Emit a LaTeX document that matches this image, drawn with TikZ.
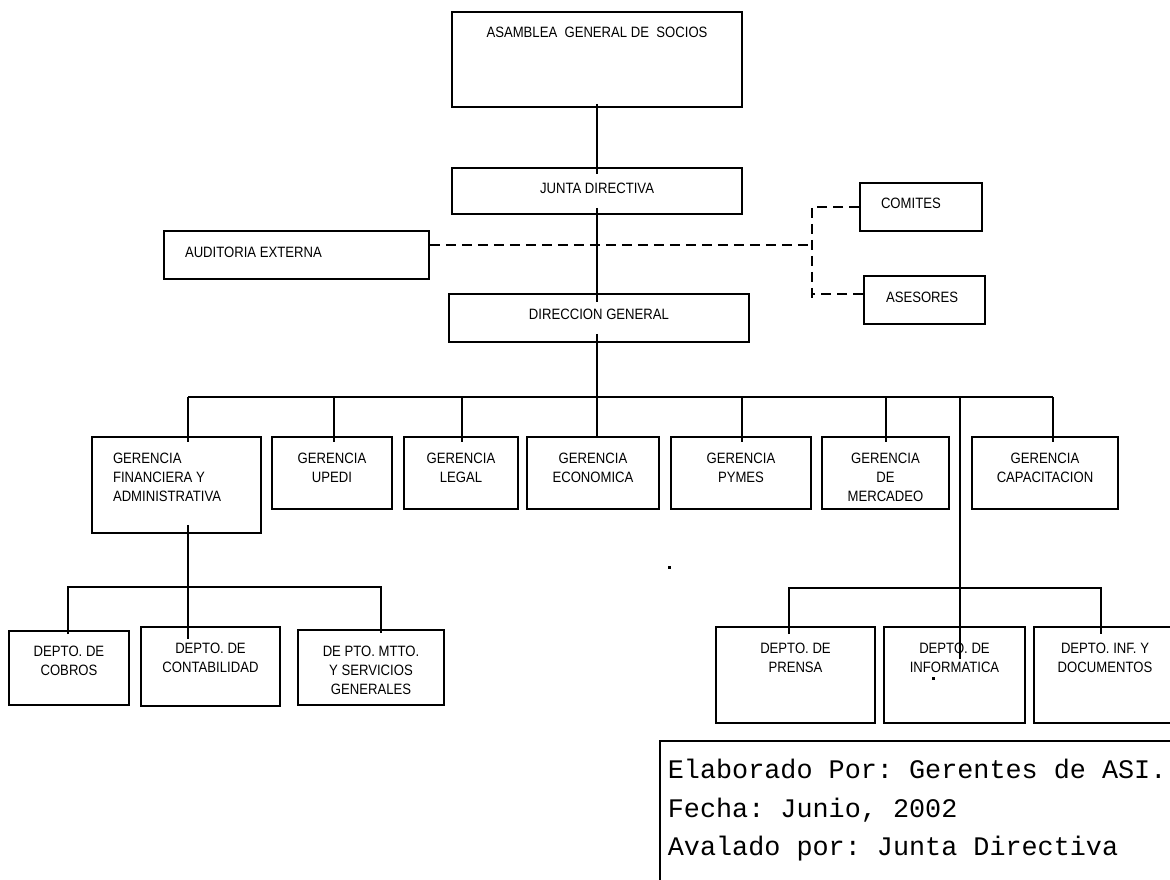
\documentclass[tikz,border=0pt]{standalone}
\usepackage{fontspec}
\newfontfamily\orgfont{Liberation Sans}[FakeStretch=0.875]
\newfontfamily\notefont{Liberation Mono}
\usetikzlibrary{positioning}
\frenchspacing

\begin{document}
\begin{tikzpicture}[x=1pt, y=-1pt, line width=1.8pt,
					unit/.style 2 args={draw, inner sep=0pt, minimum width=#1, minimum height=#2},
					lbl/.style={font=\orgfont\fontsize{15}{19}\selectfont, align=center, inner sep=0pt},
					lbll/.style={lbl, align=left},
					notetxt/.style={font=\notefont\fontsize{26.8}{38.5}\selectfont, align=left, inner sep=0pt},
					dashlink/.style={dash pattern=on 10pt off 6pt}]
					
					\useasboundingbox (0,0) rectangle (1170,879);
					
					% cuerpos directivos
					\node[unit={290pt}{95pt}] (asam) at (597,59.5) {};
					\node[unit={290pt}{46pt}] (junta) at (597,191) {};
					\node[unit={265pt}{48pt}] (audit) at (296.5,255) {};
					\node[unit={122pt}{48pt}] (comites) at (921,207) {};
					\node[unit={121pt}{48pt}] (asesores) at (924.5,300) {};
					\node[unit={300pt}{48pt}] (direc) at (599,318) {};
					
					\node[lbl, below=14.6pt of asam.north] {ASAMBLEA\ \ GENERAL DE\ \ SOCIOS};
					\node[lbl, below=14.6pt of junta.north] {JUNTA DIRECTIVA};
					\node[lbll, below right=15.6pt and 21pt of audit.north west] {AUDITORIA EXTERNA};
					\node[lbll, below right=14.6pt and 21pt of comites.north west] {COMITES};
					\node[lbll, below right=15.6pt and 22pt of asesores.north west] {ASESORES};
					\node[lbl, below=14.6pt of direc.north] {DIRECCION GENERAL};
					
					% gerencias
					\node[unit={169pt}{96pt}] (gfa) at (176.5,485) {};
					\node[unit={120pt}{72pt}] (upedi) at (332,473) {};
					\node[unit={114pt}{72pt}] (legal) at (461,473) {};
					\node[unit={132pt}{72pt}] (econ) at (593,473) {};
					\node[unit={140pt}{72pt}] (pymes) at (741,473) {};
					\node[unit={127pt}{72pt}] (merc) at (885.5,473) {};
					\node[unit={146pt}{72pt}] (capac) at (1045,473) {};
					
					\node[lbll, below right=15.6pt and 21pt of gfa.north west] {GERENCIA\\FINANCIERA Y\\ADMINISTRATIVA};
					\node[lbl, below=15.6pt of upedi.north] {GERENCIA\\UPEDI};
					\node[lbl, below=15.6pt of legal.north] {GERENCIA\\LEGAL};
					\node[lbl, below=15.6pt of econ.north] {GERENCIA\\ECONOMICA};
					\node[lbl, below=15.6pt of pymes.north] {GERENCIA\\PYMES};
					\node[lbl, below=15.6pt of merc.north] {GERENCIA\\DE\\MERCADEO};
					\node[lbl, below=15.6pt of capac.north] {GERENCIA\\CAPACITACION};
					
					% departamentos
					\node[unit={120pt}{74pt}] (cobros) at (69,668) {};
					\node[unit={139pt}{79pt}] (contab) at (210.5,666.5) {};
					\node[unit={146pt}{75pt}] (mtto) at (371,667.5) {};
					\node[unit={159pt}{96pt}] (prensa) at (795.5,675) {};
					\node[unit={141pt}{96pt}] (inform) at (954.5,675) {};
					\node[unit={142pt}{96pt}] (docum) at (1105,675) {};
					
					\node[lbl, below=14.6pt of cobros.north] {DEPTO. DE\\COBROS};
					\node[lbl, below=15.6pt of contab.north] {DEPTO. DE\\CONTABILIDAD};
					\node[lbl, below=15.6pt of mtto.north] {DE PTO. MTTO.\\Y SERVICIOS\\GENERALES};
					\node[lbl, below=15.6pt of prensa.north] {DEPTO. DE\\PRENSA};
					\node[lbl, below=15.6pt of inform.north] {DEPTO. DE\\INFORMATICA};
					\node[lbl, below=15.6pt of docum.north] {DEPTO. INF. Y\\DOCUMENTOS};
					
					% nota
					\node[unit={560pt}{170pt}, anchor=north west] (nota) at (659,740) {};
					\node[notetxt, below right=18.5pt and 8pt of nota.north west] {Elaborado Por: Gerentes de ASI.\\Fecha: Junio, 2002\\Avalado por: Junta Directiva};
					
					% lineas
					\coordinate (dashmid) at (812,245);
					\coordinate (dashbot) at (812,303);
					\coordinate (bus) at (597,397);
					\coordinate (lbus) at (188,587);
					\coordinate (rbus) at (789,588);
					
					\draw[shorten <=-4pt, shorten >=-7pt] (asam.south) -- (junta.north);
					\draw[shorten <=-7pt, shorten >=-9pt] (junta.south) -- (junta.south |- direc.north);
					\draw[shorten <=-9pt] (bus |- direc.south) -- (bus);
					\draw[dashlink] (dashmid -| audit.east) -- (dashmid);
					\draw[dashlink] (comites.west) -- (comites.west -| dashmid) -- (dashbot);
					\draw[dashlink] ([yshift=6pt]asesores.west) -- ([yshift=6pt]asesores.west -| dashmid);
					
					\draw ([xshift=11.5pt]gfa.north |- bus) -- ([xshift=8pt]capac.north |- bus);
					\foreach \g/\dx in {gfa/11.5, upedi/2, legal/1, pymes/1, merc/0.5, capac/8}
						\draw[shorten >=-6pt] ([xshift=\dx pt]\g.north |- bus) -- ([xshift=\dx pt]\g.north);
					\draw (bus) -- ([xshift=4pt]econ.north);
					\draw[shorten >=-33pt] ([xshift=5.5pt]inform.north |- bus) -- ([xshift=5.5pt]inform.north);
					
					\draw[shorten <=-9pt, shorten >=-13pt] ([xshift=11.5pt]gfa.south) -- ([xshift=11.5pt]gfa.south |- contab.north);
					\draw[shorten <=-4pt, shorten >=-4pt] ([xshift=-1pt]cobros.north) |- (lbus) -| ([xshift=10pt]mtto.north);
					\draw[shorten <=-8pt, shorten >=-8pt] ([xshift=-6.5pt]prensa.north) |- (rbus) -| ([xshift=-4pt]docum.north);
					
					\fill (668,566) rectangle ++(2.5,2.5);
					\fill (932,677) rectangle ++(2.5,2.5);
				\end{tikzpicture}
\end{document}
